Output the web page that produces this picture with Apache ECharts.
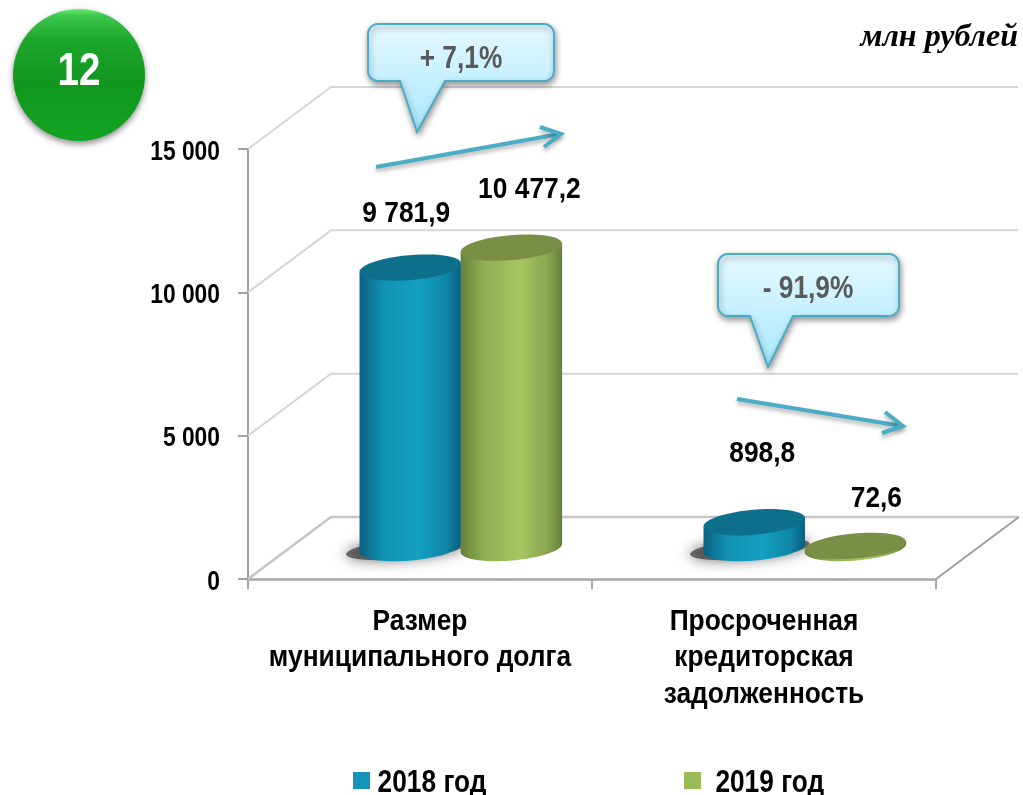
<!DOCTYPE html>
<html><head><meta charset="utf-8">
<style>html,body{margin:0;padding:0;background:#fff}#c{width:1023px;height:795px}</style>
<script src="https://cdn.jsdelivr.net/npm/echarts@6/dist/echarts.min.js"></script>
</head><body><div id="c"></div>
<script>
const categories = ['Размер\nмуниципального долга', 'Просроченная\nкредиторская\nзадолженность'];
const seriesNames = ['2018 год', '2019 год'];
const values2018 = [9781.9, 898.8];
const values2019 = [10477.2, 72.6];
const labels2018 = ['9 781,9', '898,8'];
const labels2019 = ['10 477,2', '72,6'];
const yTicks = [0, 5000, 10000, 15000];
const yTickLabels = ['0', '5 000', '10 000', '15 000'];
const unitText = 'млн рублей';
const badgeText = '12';
const callout1Text = '+ 7,1%';
const callout2Text = '- 91,9%';

const SANS = '"Liberation Sans",Arial,sans-serif';
const NARROW_SCALES = { 28: 0.815, 30: 0.878, 31: 0.848, 47: 0.82 };
const DX = 83, DY = -62, MX = 41.5, MY = -31;
const TILT = -5 * Math.PI / 180;
const ALT = {
  b2018: { edge:'#0a5f7e', near:'#1090b0', mid:'#14a0c2', far:'#0f86a6', top:'#0e6f8a' },
  b2019: { edge:'#66803c', near:'#8fae52', mid:'#a6c660', far:'#8aa851', top:'#788f45' }
};

function ell(cx, cy, a, b, t) {
  return [cx + a*Math.cos(t)*Math.cos(TILT) - b*Math.sin(t)*Math.sin(TILT),
          cy + a*Math.cos(t)*Math.sin(TILT) + b*Math.sin(t)*Math.cos(TILT)];
}
function arc(cx, cy, a, b, t0, t1) {
  const p = [];
  for (let i = 0; i <= 48; i++) p.push(ell(cx, cy, a, b, t0 + (t1 - t0) * i / 48));
  return p;
}
function cylinder(offset, pal, labels, lblOff) {
  return function (params, api) {
    const cat = api.value(0), v = api.value(1);
    const top = api.coord([cat, v]), base = api.coord([cat, 0]);
    const band = api.size([1, 0])[0];
    const cx = top[0] + MX + offset * band;
    const a = band * 0.148, b = 12.5;
    const by = base[1] + MY, ty = top[1] + MY;
    const body = arc(cx, by, a, b, Math.PI, 0).concat([ell(cx, ty, a, b, 0), ell(cx, ty, a, b, Math.PI)]);
    const grad = new echarts.graphic.LinearGradient(0, 0, 1, 0, [
      { offset: 0, color: pal.edge }, { offset: 0.22, color: pal.near },
      { offset: 0.58, color: pal.mid }, { offset: 0.85, color: pal.far },
      { offset: 1, color: pal.edge }]);
    const o = lblOff[params.dataIndex];
    return { type: 'group', children: [
      { type: 'polygon', shape: { points: body }, style: { fill: grad } },
      { type: 'polygon', shape: { points: arc(cx, ty, a, b, 0, Math.PI * 2) }, style: { fill: pal.top } },
      { type: 'text', x: cx + o[0], y: ty + o[1], style: { text: labels[params.dataIndex], fill: '#000',
        font: 'bold 30px ' + SANS, align: 'center', verticalAlign: 'middle' } }
    ] };
  };
}
function corner(cx, cy, r, a0) {
  const p = [];
  for (let i = 0; i <= 6; i++) { const t = a0 + (Math.PI / 2) * i / 6; p.push([cx + r*Math.cos(t), cy + r*Math.sin(t)]); }
  return p;
}
function callout(x0, y0, x1, y1, tA, tip, tB) {
  const r = 10;
  return [].concat(
    corner(x0 + r, y0 + r, r, Math.PI), corner(x1 - r, y0 + r, r, -Math.PI / 2),
    corner(x1 - r, y1 - r, r, 0), [[tB, y1], tip, [tA, y1]], corner(x0 + r, y1 - r, r, Math.PI / 2));
}
const calloutStyle = () => ({
  fill: new echarts.graphic.LinearGradient(0, 0, 0, 1, [{offset:0,color:'#e6f9ff'},{offset:1,color:'#a8e8ff'}]),
  stroke:'#4bacc6', lineWidth:2, shadowBlur:6, shadowOffsetX:1, shadowOffsetY:3, shadowColor:'rgba(0,0,0,0.4)' });
const arrowStyle = () => ({ stroke:'#4bacc6', lineWidth:4, fill:'none', shadowBlur:4, shadowOffsetY:3, shadowColor:'rgba(0,0,0,0.3)' });

const chart = echarts.init(document.getElementById('c'), null, { renderer: 'canvas' });
chart.setOption({
  animation: false,
  backgroundColor: '#fff',
  grid: { left: 248, right: 87, top: 149, height: 430, containLabel: false },
  legend: [
    { data: [seriesNames[0]], left: 348, top: 760, icon: 'rect', itemWidth: 17, itemHeight: 17,
      textStyle: { fontFamily: SANS, fontWeight: 'bold', fontSize: 31, color: '#000', padding: [0,0,0,7] } },
    { data: [seriesNames[1]], left: 679, top: 760, icon: 'rect', itemWidth: 17, itemHeight: 17,
      textStyle: { fontFamily: SANS, fontWeight: 'bold', fontSize: 31, color: '#000', padding: [0,0,0,15] } }
  ],
  xAxis: { type: 'category', data: categories, boundaryGap: true,
    axisLine: { lineStyle: { color: '#a6a6a6', width: 2.5 } },
    axisTick: { show: true, alignWithLabel: false, length: 10, lineStyle: { color: '#a6a6a6', width: 2 } },
    axisLabel: { interval: 0, margin: 24, fontFamily: SANS, fontWeight: 'bold', fontSize: 30, color: '#000', lineHeight: 36.5 } },
  yAxis: { type: 'value', min: 0, max: 15000, interval: 5000,
    axisLine: { show: true, lineStyle: { color: '#a0a0a0', width: 2 } },
    axisTick: { show: true, length: 10, lineStyle: { color: '#a0a0a0', width: 2 } },
    splitLine: { show: false },
    axisLabel: { margin: 28, fontFamily: SANS, fontWeight: 'bold', fontSize: 28, color: '#000',
      formatter: v => yTickLabels[yTicks.indexOf(v)] } },
  series: [
    { type: 'custom', coordinateSystem: 'cartesian2d', silent: true, z: 1,
      data: yTicks.map(v => [0, v]),
      renderItem(params, api) {
        const v = api.value(1), y = api.coord([0, v])[1];
        const x0 = params.coordSys.x, x1 = x0 + params.coordSys.width;
        const floor = v === 0;
        const kids = [
          { type: 'polyline', shape: { points: [[x0, y], [x0 + DX, y + DY], [x1 + DX - 1, y + DY]] },
            style: { stroke: floor ? '#c6c6c6' : '#d6d6d6', lineWidth: floor ? 2.5 : 2, fill: 'none' } }
        ];
        if (floor) kids.push({ type: 'line', shape: { x1: x1, y1: y, x2: x1 + DX, y2: y + DY },
          style: { stroke: '#a0a0a0', lineWidth: 2 } });
        return { type: 'group', children: kids };
      } },
    { type: 'custom', coordinateSystem: 'cartesian2d', silent: true, z: 2,
      data: values2018.map((v, i) => [i, v]),
      renderItem(params, api) {
        const base = api.coord([api.value(0), 0]);
        const band = api.size([1, 0])[0];
        const cx = base[0] + MX - 0.15 * band - 4, cy = base[1] + MY + 1;
        return { type: 'polygon', shape: { points: arc(cx, cy, 60, 10, 0, Math.PI * 2) },
          style: { fill: 'rgba(55,55,55,0.7)', shadowBlur: 14, shadowColor: 'rgba(40,40,40,0.95)' } };
      } },
    { name: seriesNames[0], type: 'custom', coordinateSystem: 'cartesian2d', silent: true, z: 3,
      itemStyle: { color: '#1195b8' },
      data: values2018.map((v, i) => [i, v]),
      renderItem: cylinder(-0.149, ALT.b2018, labels2018, [[-4, -54], [8, -69]]) },
    { name: seriesNames[1], type: 'custom', coordinateSystem: 'cartesian2d', silent: true, z: 4,
      itemStyle: { color: '#9bbb59' },
      data: values2019.map((v, i) => [i, v]),
      renderItem: cylinder(0.145, ALT.b2019, labels2019, [[18, -58], [21, -47]]) }
  ],
  graphic: [
    { type: 'circle', shape: { cx: 79, cy: 75, r: 66 }, z: 10,
      style: { fill: new echarts.graphic.LinearGradient(0, 0, 0, 1, [
        {offset:0,color:'#62ee70'},{offset:0.05,color:'#3cc84c'},{offset:0.22,color:'#1ea82e'},{offset:0.55,color:'#10961f'},{offset:1,color:'#12a322'}]),
        shadowBlur: 6, shadowOffsetY: 3, shadowColor: 'rgba(0,0,0,0.45)' } },
    { type: 'text', x: 79, y: 72, z: 11, style: { text: badgeText, fill: '#fff', font: 'bold 47px ' + SANS, align: 'center', verticalAlign: 'middle' } },
    { type: 'text', x: 1018, y: 38, z: 11, style: { text: unitText, fill: '#000', font: 'italic bold 32px "Liberation Serif",serif', align: 'right', verticalAlign: 'middle' } },
    { type: 'polygon', z: 10, shape: { points: callout(368, 24, 554, 81, 400, [417, 132], 445) }, style: calloutStyle() },
    { type: 'text', x: 461, y: 59, z: 11, style: { text: callout1Text, fill: '#595959', font: 'bold 31px ' + SANS, align: 'center', verticalAlign: 'middle' } },
    { type: 'polygon', z: 10, shape: { points: callout(718, 254, 899, 316, 750, [768, 367], 793) }, style: calloutStyle() },
    { type: 'text', x: 808, y: 289, z: 11, style: { text: callout2Text, fill: '#595959', font: 'bold 31px ' + SANS, align: 'center', verticalAlign: 'middle' } },
    { type: 'polyline', z: 9, shape: { points: [[376, 167], [560, 134]] }, style: arrowStyle() },
    { type: 'polyline', z: 9, shape: { points: [[540, 127], [561, 134], [544, 147]] }, style: arrowStyle() },
    { type: 'polyline', z: 9, shape: { points: [[737, 399], [902, 426]] }, style: arrowStyle() },
    { type: 'polyline', z: 9, shape: { points: [[885, 412], [903, 426], [882, 433]] }, style: arrowStyle() }
  ]
});

// The reference uses a narrow bold face that is not installed: condense the sans texts about their anchors,
// and nudge the y-axis and legend texts (set through fontSize) onto the reference's baselines.
function condense(el) {
  if (el.type === 'text' && el.style) {
    const f = String(el.style.font || '') + String(el.style.fontFamily || '');
    if (f.indexOf('Liberation Sans') >= 0) {
      const m = String(el.style.font || '').match(/(\d+)px/);
      const size = el.style.fontSize ? parseInt(el.style.fontSize) : (m ? +m[1] : 0);
      if (NARROW_SCALES[size]) { el.scaleX = NARROW_SCALES[size]; }
      if (el.style.fontSize && (size === 28 || size === 31)) { el.y += 3; }
      el.markRedraw();
    }
  }
  if (el.isGroup) el.eachChild(condense);
}
chart.getZr().storage.getRoots().forEach(condense);
chart.getZr().refresh();
</script></body></html>
